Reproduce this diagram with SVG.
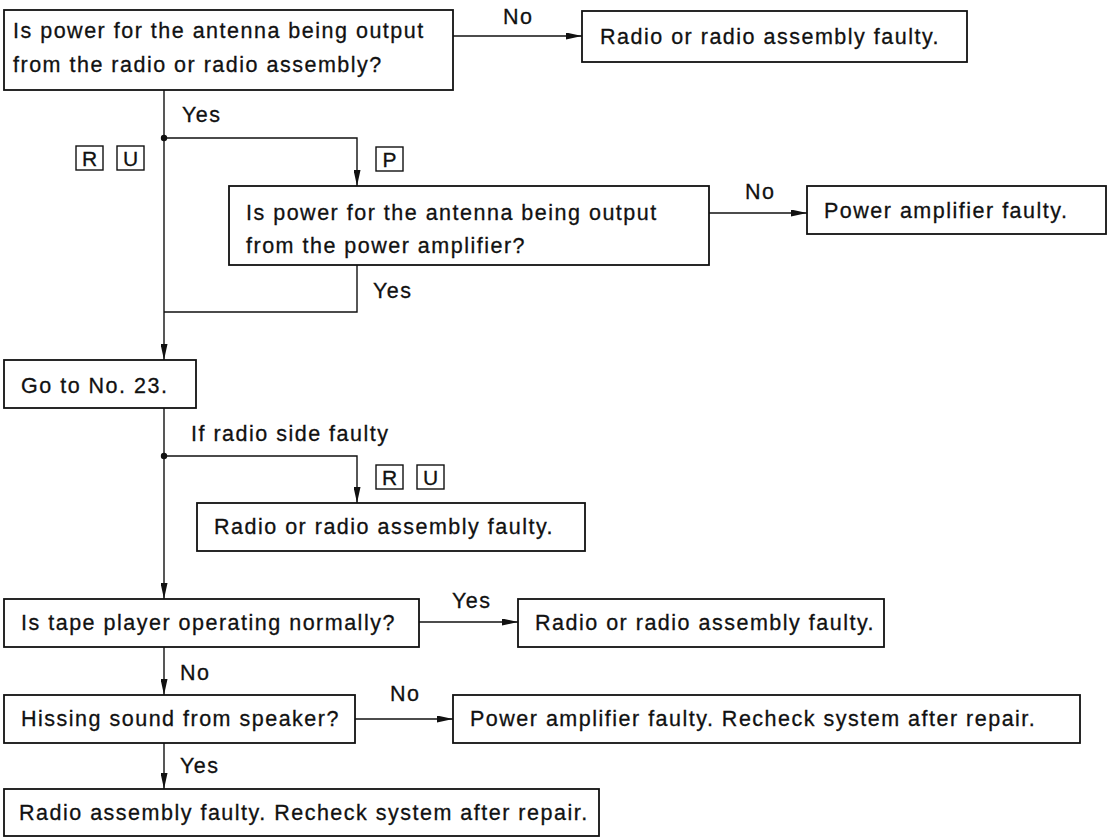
<svg xmlns="http://www.w3.org/2000/svg" width="1108" height="837" viewBox="0 0 1108 837">
  <defs>
    <marker id="arrow" markerWidth="16" markerHeight="7" refX="16" refY="3.5" orient="auto" markerUnits="userSpaceOnUse">
      <path d="M0,0 L16,3.5 L0,7 z" fill="#111"/>
    </marker>
    <style>
      .box { fill: #fff; stroke: #111; stroke-width: 1.8; }
      .tag { fill: #fff; stroke: #111; stroke-width: 1.4; }
      .t { font-family: "Liberation Sans", Arial, Helvetica, sans-serif; font-size: 21.5px; letter-spacing: 1.5px; fill: #111; stroke: #111; stroke-width: 0.3; }
      .tg { font-family: "Liberation Sans", Arial, Helvetica, sans-serif; font-size: 21px; fill: #111; stroke: #111; stroke-width: 0.3; text-anchor: middle; }
      .ln { fill: none; stroke: #111; stroke-width: 1.4; }
      .arr { fill: none; stroke: #111; stroke-width: 1.4; marker-end: url(#arrow); }
    </style>
  </defs>
  <rect width="1108" height="837" fill="#fff"/>

  <!-- connectors -->
  <g id="connectors">
    <path class="arr" d="M453,36 H582"/>
    <path class="arr" d="M164,90 V360"/>
    <path class="arr" d="M164,138 H357 V186"/>
    <path class="arr" d="M709,213 H807"/>
    <path class="ln" d="M357,265 V312 H164"/>
    <path class="arr" d="M164,408 V599"/>
    <path class="arr" d="M164,456 H357 V503"/>
    <path class="arr" d="M419,622 H518"/>
    <path class="arr" d="M164,647 V695"/>
    <path class="arr" d="M355,719 H453"/>
    <path class="arr" d="M164,743 V789"/>
    <circle cx="164" cy="138" r="3.2" fill="#111"/>
    <circle cx="164" cy="456" r="3.2" fill="#111"/>
  </g>

  <!-- connector labels -->
  <g id="labels">
    <text class="t" x="503" y="24">No</text>
    <text class="t" x="182" y="122">Yes</text>
    <text class="t" x="745" y="199">No</text>
    <text class="t" x="373" y="298">Yes</text>
    <text class="t" x="191" y="441">If radio side faulty</text>
    <text class="t" x="452" y="608">Yes</text>
    <text class="t" x="180" y="680">No</text>
    <text class="t" x="390" y="701">No</text>
    <text class="t" x="180" y="773">Yes</text>
  </g>

  <!-- model tags -->
  <g id="tags-ru-1">
    <rect class="tag" x="76" y="146" width="27" height="24"/>
    <text class="tg" x="89.5" y="165.5">R</text>
    <rect class="tag" x="117" y="146" width="27" height="24"/>
    <text class="tg" x="130.5" y="165.5">U</text>
  </g>
  <g id="tag-p">
    <rect class="tag" x="376" y="147" width="27" height="24"/>
    <text class="tg" x="389.5" y="166.5">P</text>
  </g>
  <g id="tags-ru-2">
    <rect class="tag" x="376" y="465" width="27" height="24"/>
    <text class="tg" x="389.5" y="484.5">R</text>
    <rect class="tag" x="417" y="465" width="27" height="24"/>
    <text class="tg" x="430.5" y="484.5">U</text>
  </g>

  <!-- nodes -->
  <g id="q-radio-output">
    <rect class="box" x="4" y="10" width="449" height="80"/>
    <text class="t" x="13" y="38">Is power for the antenna being output</text>
    <text class="t" x="13" y="72">from the radio or radio assembly?</text>
  </g>
  <g id="r-radio-faulty-1">
    <rect class="box" x="582" y="11" width="385" height="51"/>
    <text class="t" x="600" y="44">Radio or radio assembly faulty.</text>
  </g>
  <g id="q-amp-output">
    <rect class="box" x="229" y="186" width="480" height="79"/>
    <text class="t" x="246" y="220">Is power for the antenna being output</text>
    <text class="t" x="246" y="253">from the power amplifier?</text>
  </g>
  <g id="r-amp-faulty">
    <rect class="box" x="807" y="186" width="299" height="48"/>
    <text class="t" x="824" y="218">Power amplifier faulty.</text>
  </g>
  <g id="goto-23">
    <rect class="box" x="4" y="360" width="192" height="48"/>
    <text class="t" x="21" y="393">Go to No. 23.</text>
  </g>
  <g id="r-radio-faulty-2">
    <rect class="box" x="197" y="503" width="388" height="48"/>
    <text class="t" x="214" y="534">Radio or radio assembly faulty.</text>
  </g>
  <g id="q-tape">
    <rect class="box" x="4" y="599" width="415" height="48"/>
    <text class="t" x="21" y="630">Is tape player operating normally?</text>
  </g>
  <g id="r-radio-faulty-3">
    <rect class="box" x="518" y="599" width="366" height="48"/>
    <text class="t" x="535" y="630">Radio or radio assembly faulty.</text>
  </g>
  <g id="q-hissing">
    <rect class="box" x="4" y="695" width="351" height="48"/>
    <text class="t" x="21" y="726">Hissing sound from speaker?</text>
  </g>
  <g id="r-amp-recheck">
    <rect class="box" x="453" y="695" width="627" height="48"/>
    <text class="t" x="470" y="726">Power amplifier faulty. Recheck system after repair.</text>
  </g>
  <g id="r-radio-recheck">
    <rect class="box" x="4" y="789" width="595" height="47"/>
    <text class="t" x="19" y="820">Radio assembly faulty. Recheck system after repair.</text>
  </g>
</svg>
